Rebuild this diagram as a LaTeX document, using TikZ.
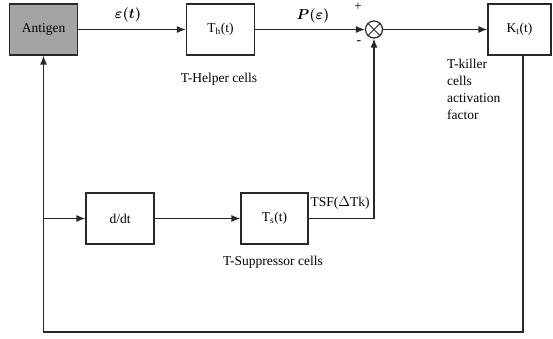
\documentclass[tikz,border=0pt]{standalone}
\usepackage{amsmath}
\usepackage{bm}
\usepackage{fontspec}
\setmainfont{Liberation Serif}
\usetikzlibrary{arrows.meta}
\definecolor{ln}{RGB}{40,40,40}
\definecolor{agfill}{RGB}{164,164,164}
\begin{document}
\begin{tikzpicture}[x=1pt,y=1pt,
  blk/.style={draw=ln,line width=1.2pt,minimum width=68pt,minimum height=51pt,inner sep=0pt,font=\fontsize{13.5}{15}\selectfont},
  lab/.style={font=\fontsize{13.5}{16}\selectfont,inner sep=0pt},
  conn/.style={draw=ln,line width=1.2pt},
  arr/.style={conn,-{Latex[length=9pt,width=7pt]}}]
\useasboundingbox (0,0) rectangle (553,-339);
\node[blk,fill=agfill] (ag) at (43.5,-29.5) {Antigen};
\node[blk] (th) at (220.5,-29.5) {T\textsubscript{h}(t)};
\node[blk,minimum width=63pt] (kt) at (519.5,-29.5) {K\textsubscript{t}(t)};
\node[draw=ln,line width=1.2pt,circle,minimum size=17pt,inner sep=0pt] (sum) at (374,-29.5) {};
\draw[ln,line width=1pt] (sum.north west) -- (sum.south east) (sum.north east) -- (sum.south west);
\node[blk] (dt) at (120,-218.5) {d/dt};
\node[blk,minimum width=67pt] (ts) at (274.5,-218.5) {T\textsubscript{s}(t)};
\coordinate (c1) at (523,-332);
\coordinate (c2) at (43.5,-332);
\coordinate (j) at (43.5,-218.5);
\draw[arr] (ag.east) -- (th.west);
\draw[arr] (th.east) -- (sum.west);
\draw[arr] (sum.east) -- (kt.west);
\draw[arr] (kt.south -| c1) -- (c1) -- (c2) -- (ag.south);
\draw[arr] (j) -- (dt.west);
\draw[arr] (dt.east) -- (ts.west);
\draw[arr] (ts.east) -- (ts.east -| sum) -- (sum.south);
\node[lab] (le) at (128,-15) {$\bm{\varepsilon(t)}$};
\node[lab] (lp) at (313,-16) {$\bm{P(\varepsilon)}$};
\node[lab,font=\fontsize{13}{13}\selectfont] (lplus) at (358,-7) {+};
\node[lab,font=\fontsize{14}{14}\selectfont] (lminus) at (359,-43) {-};
\node[lab] (ltsf) at (340,-203) {TSF($\Delta$Tk)};
\node[lab] (lh) at (219,-79) {T-Helper cells};
\node[lab] (ls) at (273,-262) {T-Suppressor cells};
\node[lab,anchor=north west,align=left,font=\fontsize{13.5}{17}\selectfont] (lk) at (447,-59) {T-killer\\cells\\activation\\factor};
\end{tikzpicture}
\end{document}
